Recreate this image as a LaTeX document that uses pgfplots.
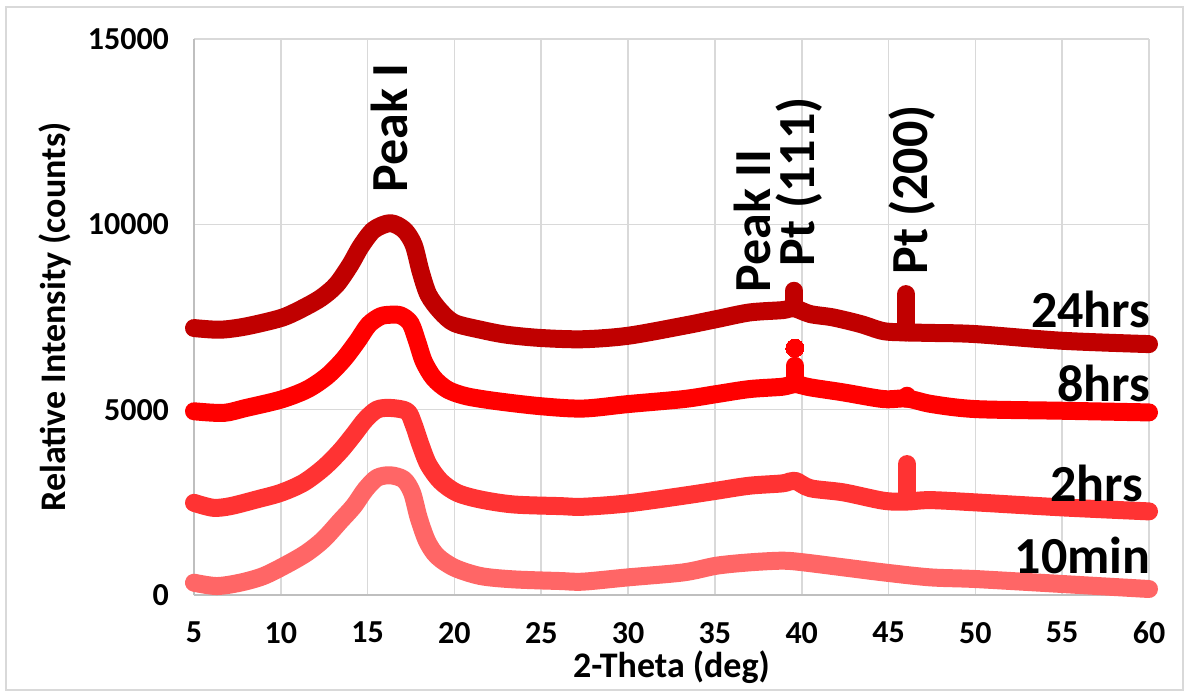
\documentclass[border=0pt]{standalone}
\usepackage{fontspec}
\setmainfont{Carlito}
\usepackage{pgfplots}
\pgfplotsset{compat=1.18}
\definecolor{c24}{HTML}{C00000}
\definecolor{c8}{HTML}{FF0000}
\definecolor{c2}{HTML}{FF3333}
\definecolor{c10}{HTML}{FF6666}
\definecolor{gridc}{HTML}{D9D9D9}
\definecolor{axc}{HTML}{BFBFBF}
\begin{document}
\begin{tikzpicture}
\begin{axis}[
  name=ax, at={(0,0)}, anchor=south west,
  width=477.5pt, height=278pt, scale only axis,
  xmin=5, xmax=60, ymin=0, ymax=15000,
  xtick={5,10,...,60}, ytick={0,5000,10000,15000},
  scaled y ticks=false,
  /pgf/number format/.cd, set thousands separator={}, assume math mode=true, /pgfplots/.cd,
  axis x line*=bottom, axis y line*=left,
  axis line style={axc, line width=0.8pt, -},
  major tick length=0pt,
  grid=major, major grid style={gridc, line width=0.8pt},
  tick label style={font=\bfseries\fontsize{16}{18}\selectfont},
  yticklabel style={xshift=-9pt},
  xticklabel style={yshift=-10pt},
  label style={font=\bfseries\fontsize{18}{20}\selectfont},
  xlabel={2-Theta (deg)},
  ylabel={Relative Intensity (counts)},
  xlabel style={at={(axis description cs:0.5,-0.1295)}, anchor=center},
  ylabel style={at={(axis description cs:-0.1455,0.5)}, anchor=center},
  clip=false,
  every axis plot/.append style={line width=9pt, line join=round, line cap=round, no marks},
]
% 10min
\addplot[c10, smooth, tension=0.5] coordinates {(5,332) (6.3,242) (7.65,332) (9,512) (10.35,826) (11.5,1140) (12.46,1500) (13.42,1994) (14.2,2398) (14.87,2847) (15.54,3161) (16.3,3230) (17.08,3116) (17.56,2757) (17.94,2083) (18.42,1455) (19,1051) (20,736) (21.5,512) (23.4,422) (26.1,377) (27.4,360) (30,476) (33.2,611) (35.1,791) (37,881) (38.9,926) (40.1,881) (42.4,746) (44.7,611) (47.4,476) (50,431) (55,297) (60,162)};
% 2hrs
\addplot[c2, smooth, tension=0.5] coordinates {(5,2487) (6.1,2353) (7.1,2398) (8.6,2577) (10,2757) (11.3,3026) (12.46,3430) (13.42,3879) (14.2,4328) (14.87,4732) (15.54,5002) (16.3,5047) (17.27,4957) (17.65,4598) (18.04,4059) (18.5,3520) (19.2,3071) (20.15,2757) (21.5,2577) (23.4,2443) (26.1,2398) (27.4,2380) (30,2472) (33.2,2679) (35.1,2814) (37,2949) (38.9,3012) (39.6,3084) (40.5,2880) (42.4,2769) (44.7,2544) (46,2520) (47.4,2560) (50,2499) (55,2364) (60,2256)};
\addplot[c2] coordinates {(46.06,2560) (46.06,3533)};
% 8hrs
\addplot[c8, smooth, tension=0.5] coordinates {(5,4957) (6.7,4912) (8,5047) (10,5271) (11.5,5541) (12.65,5900) (13.6,6349) (14.4,6843) (15.06,7292) (15.73,7516) (16.3,7561) (16.9,7543) (17.46,7337) (17.85,6843) (18.23,6304) (18.8,5855) (19.6,5541) (20.7,5361) (22.5,5226) (25,5092) (27.4,5030) (30,5151) (33.2,5286) (35.1,5421) (37,5556) (38.9,5619) (39.6,5691) (40.5,5601) (42.4,5466) (44.7,5286) (46.06,5300) (47.5,5150) (50,5016) (55,4971) (60,4926)};
\addplot[c8] coordinates {(39.6,5700) (39.6,6185)};
\addplot[c8, only marks, mark=*, mark size=4.5pt, line width=0pt] coordinates {(39.6,6661)};
\addplot[c8] coordinates {(46.06,5300) (46.06,5376)};
% 24hrs
\addplot[c24, smooth, tension=0.5] coordinates {(5,7202) (6.5,7157) (8,7247) (10,7471) (11.1,7696) (12.3,8010) (13.2,8369) (14,8908) (14.6,9402) (15.35,9851) (16.3,10031) (17.1,9851) (17.65,9447) (18.05,8729) (18.5,8100) (19.2,7651) (20,7337) (21.5,7157) (23,7022) (25,6933) (27.4,6900) (30,6994) (33.2,7264) (35.1,7444) (37,7623) (38.9,7686) (39.55,7740) (40.5,7578) (41.8,7489) (43.4,7309) (44.7,7120) (46.0,7084) (47.5,7070) (50,7039) (55,6859) (60,6769)};
\addplot[c24] coordinates {(39.55,7740) (39.55,8208)};
\addplot[c24] coordinates {(46.0,7084) (46.0,7623) (46.0,8118)};
% annotations
\begin{scope}[every node/.style={font=\bfseries\fontsize{26}{28}\selectfont, inner sep=0pt}]
\node[rotate=90, anchor=west] at (axis cs:16.26,10846) {Peak I};
\node[rotate=90, anchor=west] at (axis cs:37.15,8148) {Peak II};
\node[rotate=90, anchor=west] at (axis cs:39.85,8850) {Pt (111)};
\node[rotate=90, anchor=west] at (axis cs:46.36,8634) {Pt (200)};
\node[anchor=base east] at (axis cs:60.1,7204) {24hrs};
\node[anchor=base east] at (axis cs:60.1,5216) {8hrs};
\node[anchor=base east] at (axis cs:59.7,2518) {2hrs};
\node[anchor=base east] at (axis cs:60.1,593) {10min};
\end{scope}
\end{axis}
\pgfresetboundingbox
\path[use as bounding box] (-97pt,-48.5pt) rectangle (496pt,297.5pt);
\draw[gridc, line width=0.8pt] (-94pt,-47.5pt) rectangle (494.5pt,294pt);
\end{tikzpicture}
\end{document}
